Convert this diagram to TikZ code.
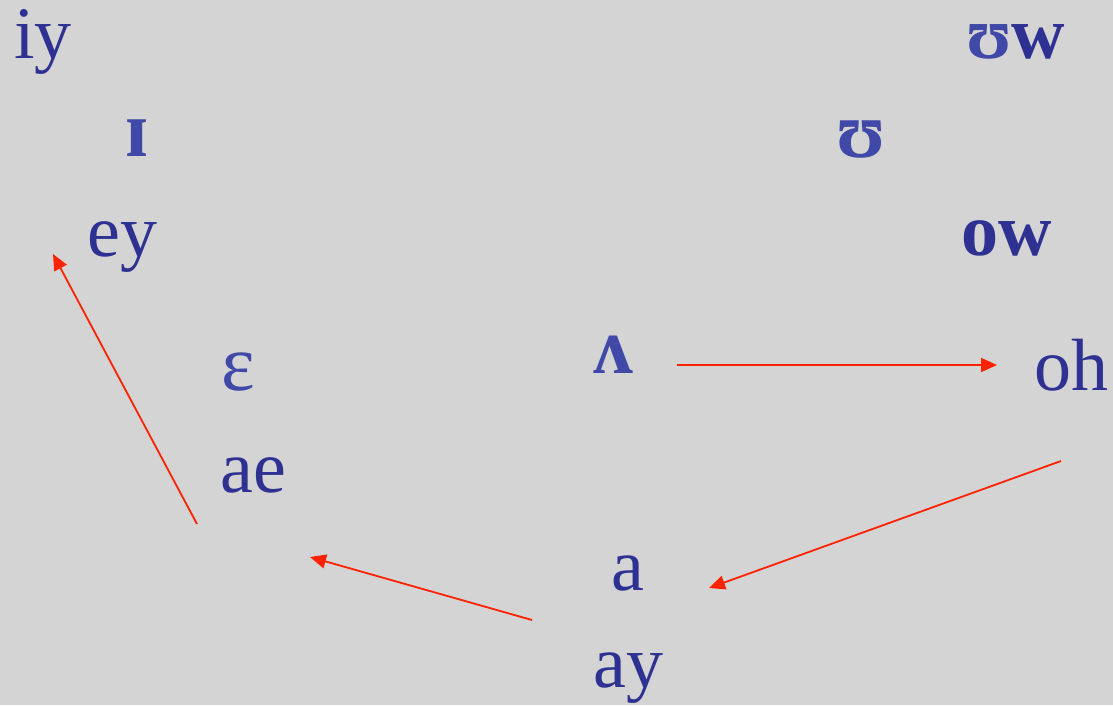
\documentclass[tikz,border=0pt]{standalone}
\usepackage{fontspec}
\setmainfont{Liberation Serif}
\usetikzlibrary{arrows.meta}
\definecolor{vwlblue}{RGB}{46,49,146}
\definecolor{ipablue}{RGB}{64,72,168}
\definecolor{glidered}{RGB}{255,34,0}
\definecolor{slidegray}{RGB}{212,212,212}

\begin{document}
\begin{tikzpicture}[x=1pt, y=-1pt,
  vwl/.style={anchor=base west, inner sep=0pt, text=vwlblue,
              font=\fontsize{74}{80}\selectfont},
  ipa/.style={vwl, text=ipablue, font=\fontsize{80}{86}\selectfont\bfseries},
  arr/.style={-{Triangle[length=16pt, width=14pt]}, line width=1.8pt, glidered}
]
  %% Slide background
  \fill[slidegray] (0,0) rectangle (1113,705);
  \useasboundingbox (0,0) rectangle (1113,705);

  %% Front vowels
  \node[vwl] (iy) at (14,58)   {iy};
  \node[ipa] (ih) at (125,156) {ɪ};
  \node[vwl] (ey) at (87,256)  {ey};
  \node[vwl, text=ipablue, font=\fontsize{80}{86}\selectfont] (eh) at (221,390) {ɛ};
  \node[vwl] (ae) at (220,492) {ae};
  %% Central vowels
  \node[ipa] (ah) at (593,373) {ʌ};
  \node[vwl] (aa) at (611,590) {a};
  \node[vwl] (ay) at (593,687) {ay};
  %% Back vowels
  \node[vwl] (uw) at (966,58)  {\bfseries\textcolor{ipablue}{ʊ}w};
  \node[ipa] (uh) at (836,157) {ʊ};
  \node[vwl] (ow) at (961,255) {\bfseries ow};
  \node[vwl] (oh) at (1034,390) {oh};

  %% Arrow ends
  \coordinate (ahR) at (677,365);
  \coordinate (ohL) at (997,365);
  \coordinate (ohB) at (1061,461);
  \coordinate (aaL) at (709,588);
  \coordinate (ayL) at (532,620);
  \coordinate (aeB) at (310,557);
  \coordinate (aeL) at (197,524);
  \coordinate (eyB) at (53,254);

  %% Glide path
  \draw[arr] (ahR) -- (ohL);
  \draw[arr] (ohB) -- (aaL);
  \draw[arr] (ayL) -- (aeB);
  \draw[arr] (aeL) -- (eyB);
\end{tikzpicture}
\end{document}
